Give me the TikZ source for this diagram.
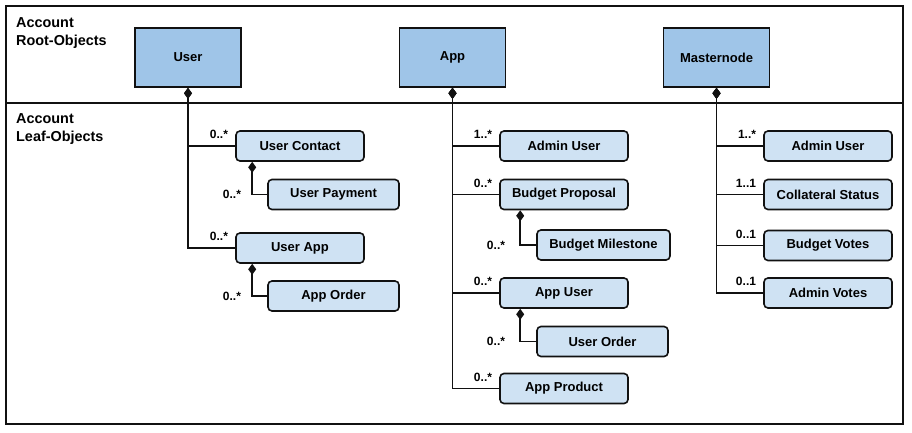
\documentclass[tikz,border=0pt]{standalone}
\usepackage{fontspec}
\setmainfont{Liberation Sans}
\usetikzlibrary{arrows.meta}
\definecolor{rootfill}{HTML}{9FC5E8}
\definecolor{leaffill}{HTML}{CFE2F3}
\definecolor{ink}{HTML}{111111}
\begin{document}
\begin{tikzpicture}[x=1pt,y=-1pt,
  rootbox/.style={draw=ink,line width=1.6pt,fill=rootfill,minimum width=106pt,minimum height=59pt,inner sep=0pt,font=\bfseries\fontsize{13}{15}\selectfont},
  leafbox/.style={draw=ink,line width=1.6pt,fill=leaffill,rounded corners=4pt,minimum width=128pt,minimum height=30pt,inner sep=0pt,font=\bfseries\fontsize{13}{15}\selectfont},
  mainconn/.style={draw=ink,line width=1.6pt,{Diamond[length=11pt,width=8pt]}-},
  subconn/.style={draw=ink,line width=1.6pt,{Diamond[length=11pt,width=8pt]}-},
  mult/.style={font=\bfseries\fontsize{12}{14}\selectfont,inner sep=0pt},
  mainmult/.style={mult,anchor=south east,xshift=-7pt,yshift=7pt},
  submult/.style={mult,anchor=east},
  header/.style={font=\bfseries\fontsize{14.4}{18}\selectfont,align=left,anchor=north west,inner sep=0pt}
]
\useasboundingbox (0,0) rectangle (912,433);
\draw[draw=ink,line width=1.6pt] (6,6) rectangle (903,424);
\draw[draw=ink,line width=1.6pt] (6,103) -- (903,103);
\node[header] (h1) at (16,17) {Account\\Root-Objects};
\node[header] (h2) at (16,113) {Account\\Leaf-Objects};

\node[rootbox] (user) at (188,57.5) {User};
\node[rootbox] (app) at (452.5,57.5) {App};
\node[rootbox] (mn) at (716.5,57.5) {Masternode};

\node[leafbox] (uc) at (300,146) {User Contact};
\node[leafbox,minimum width=131pt] (up) at (333.5,194.5) {User Payment};
\node[leafbox] (ua) at (300,248) {User App};
\node[leafbox,minimum width=131pt] (ao) at (333.5,296) {App Order};

\node[leafbox] (au) at (564,146) {Admin User};
\node[leafbox] (bp) at (564,194.5) {Budget Proposal};
\node[leafbox,minimum width=133pt] (bm) at (603.5,245) {Budget Milestone};
\node[leafbox] (apu) at (564,293) {App User};
\node[leafbox,minimum width=131pt] (uo) at (602.5,341.5) {User Order};
\node[leafbox] (ap) at (564,388.5) {App Product};

\node[leafbox] (mau) at (828,146) {Admin User};
\node[leafbox] (cs) at (828,194.5) {Collateral Status};
\node[leafbox] (bv) at (828,245.5) {Budget Votes};
\node[leafbox] (av) at (828,293) {Admin Votes};

% main connectors
\draw[mainconn] (user.south) |- (uc.west);
\draw[mainconn] (user.south) |- (ua.west);
\draw[mainconn] (app.south) |- (au.west);
\draw[mainconn] (app.south) |- (bp.west);
\draw[mainconn] (app.south) |- (apu.west);
\draw[mainconn] (app.south) |- (ap.west);
\draw[mainconn] (mn.south) |- (mau.west);
\draw[mainconn] (mn.south) |- (cs.west);
\draw[mainconn] (mn.south) |- (bv.west);
\draw[mainconn] (mn.south) |- (av.west);

% sub connectors
\coordinate (ucd) at ([xshift=17pt]uc.south west);
\coordinate (uad) at ([xshift=17pt]ua.south west);
\coordinate (bpd) at ([xshift=21pt]bp.south west);
\coordinate (apud) at ([xshift=21pt]apu.south west);
\draw[subconn] (ucd) |- (up.west);
\draw[subconn] (uad) |- (ao.west);
\draw[subconn] (bpd) |- (bm.west);
\draw[subconn] (apud) |- (uo.west);

% multiplicities, main
\node[mainmult] (muc) at (uc.west) {0..*};
\node[mainmult] (mua) at (ua.west) {0..*};
\node[mainmult] (mau1) at (au.west) {1..*};
\node[mainmult] (mbp) at (bp.west) {0..*};
\node[mainmult] (mapu) at (apu.west) {0..*};
\node[mainmult] (map) at (ap.west) {0..*};
\node[mainmult] (mmau) at (mau.west) {1..*};
\node[mainmult] (mcs) at (cs.west) {1..1};
\node[mainmult] (mbv) at (bv.west) {0..1};
\node[mainmult] (mav) at (av.west) {0..1};
% multiplicities, sub
\node[submult] (mup) at ([xshift=-11pt]ucd |- up.west) {0..*};
\node[submult] (mao) at ([xshift=-11pt]uad |- ao.west) {0..*};
\node[submult] (mbm) at ([xshift=-15pt]bpd |- bm.west) {0..*};
\node[submult] (muo) at ([xshift=-15pt]apud |- uo.west) {0..*};
\end{tikzpicture}
\end{document}
